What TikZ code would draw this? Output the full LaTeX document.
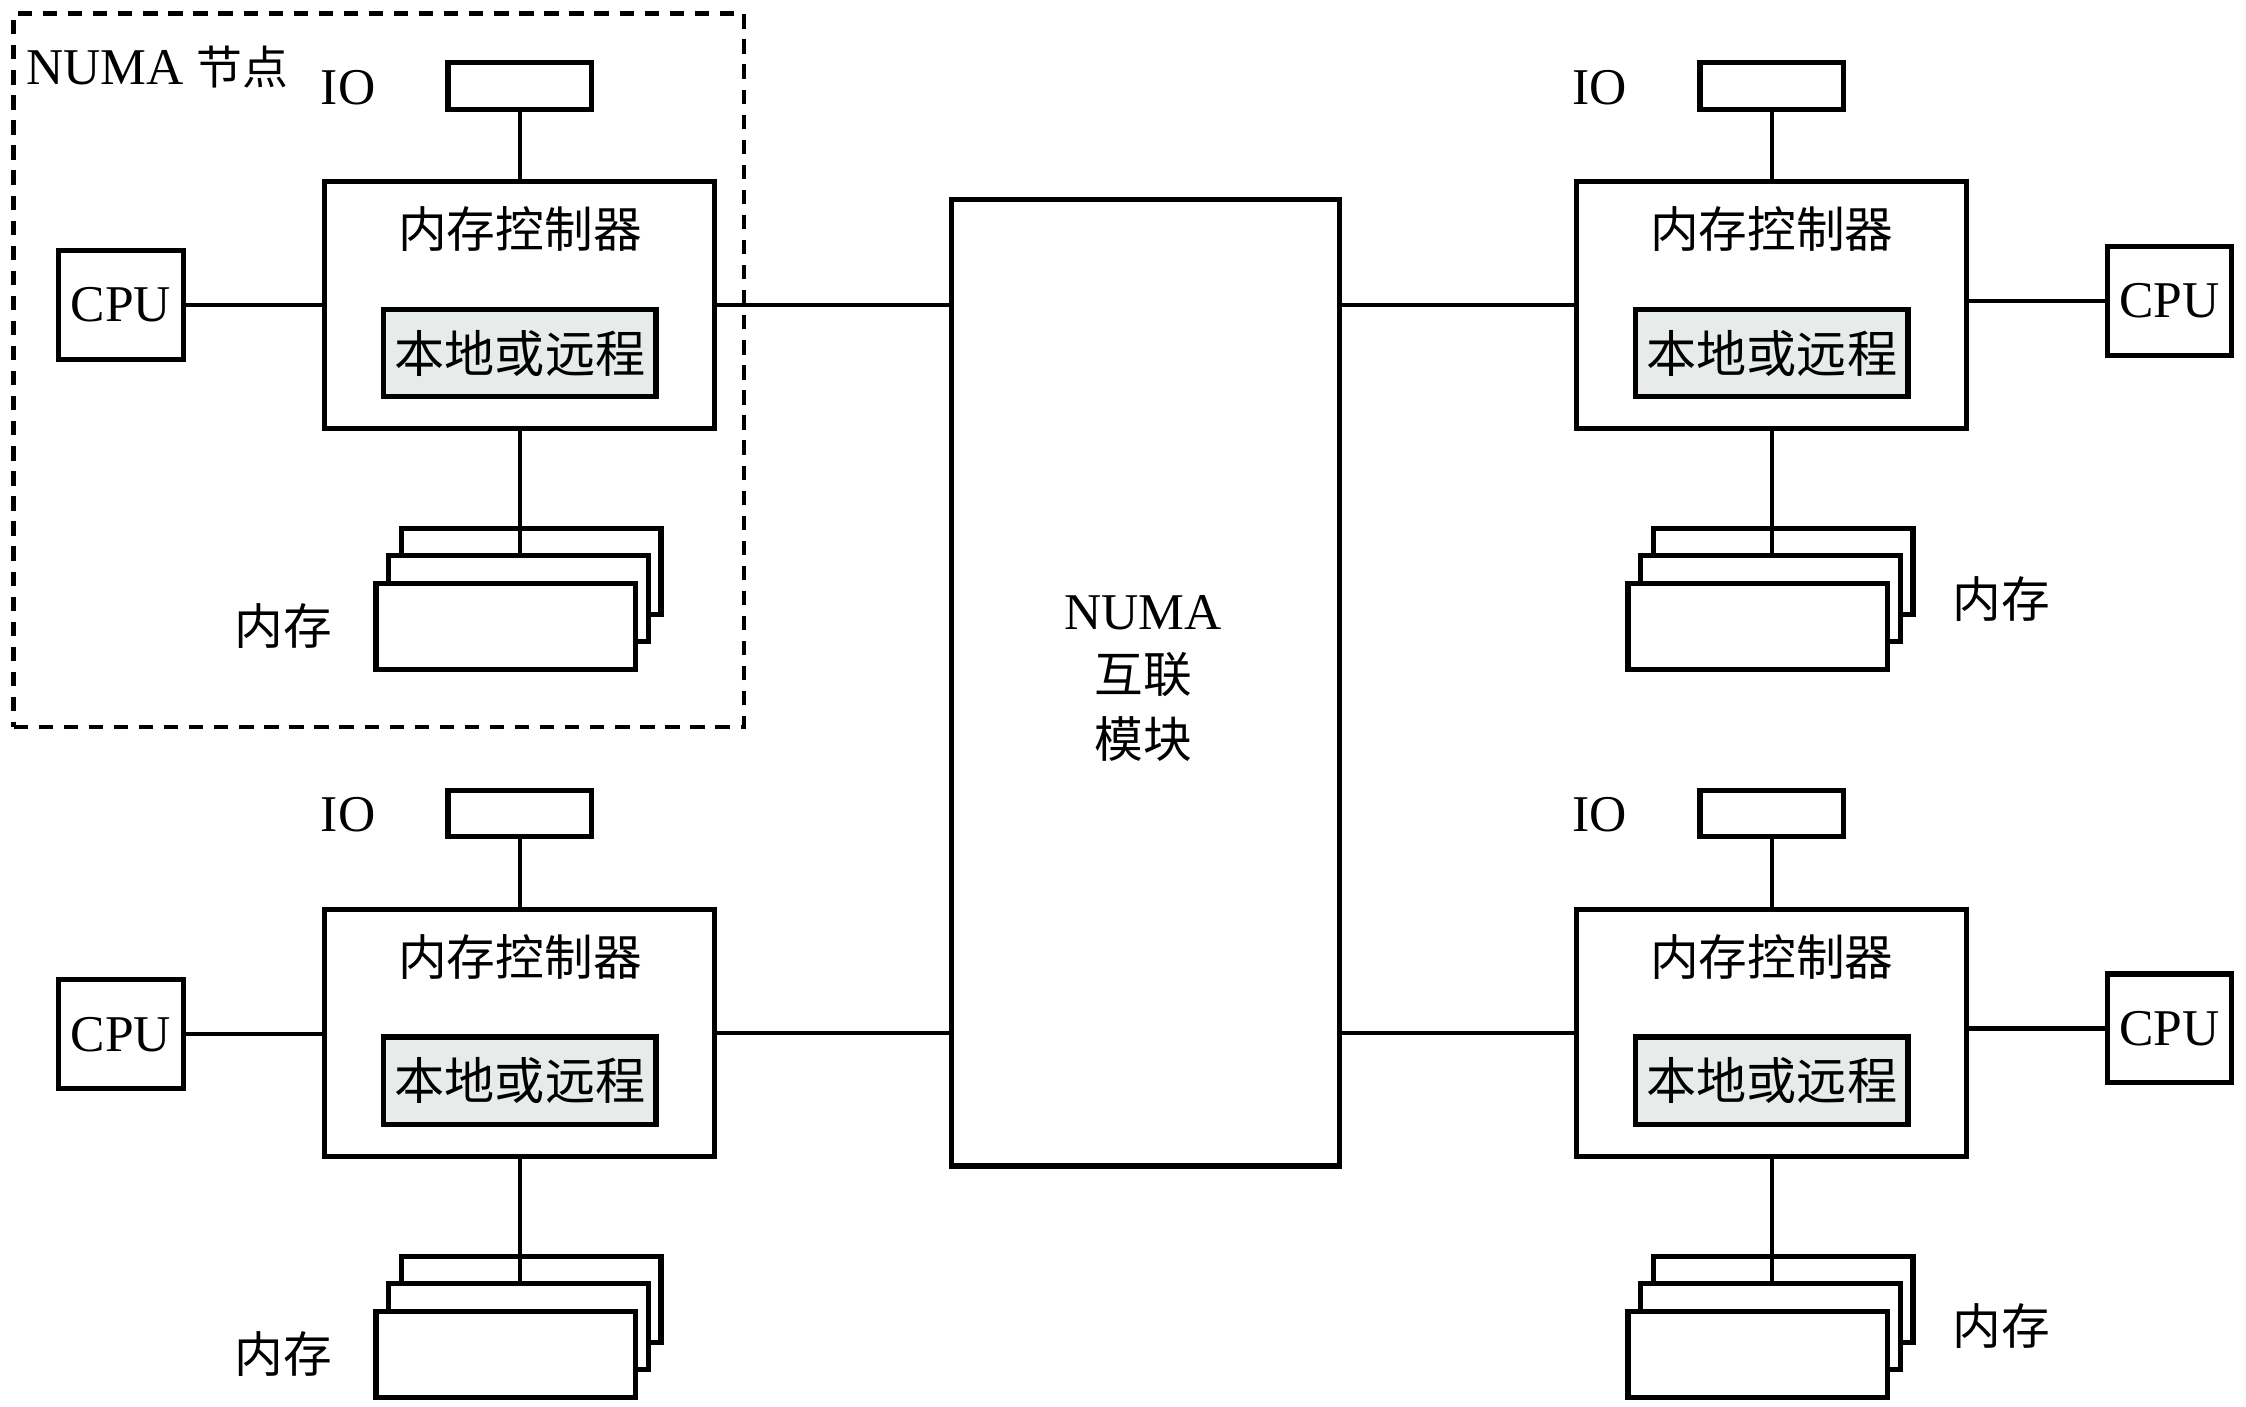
\documentclass[tikz,border=0pt]{standalone}
\usepackage{fontspec}
\setmainfont{Liberation Serif}
\newfontfamily\cjk{Noto Sans CJK SC}
\definecolor{locgray}{RGB}{231,235,233}
\begin{document}
\begin{tikzpicture}[x=1pt,y=-1pt,
  box/.style={draw, line width=3.6pt, fill=white, inner sep=0pt},
  conn/.style={line width=3pt},
  lbl/.style={inner sep=0pt, font=\fontsize{36}{40}\selectfont},
  cjklbl/.style={inner sep=0pt, font=\cjk\fontsize{34}{40}\selectfont},
  memrect/.style={box, minimum width=181pt, minimum height=60pt}]
\useasboundingbox (0,0) rectangle (1568,982);
% NUMA node frame
\node[draw, line width=3pt, dash pattern=on 10pt off 7.5pt, inner sep=0pt,
      minimum width=510pt, minimum height=498pt] (frame) at (264.5,258.5) {};
\node[lbl, anchor=west] (framelbl) at (18,47) {NUMA {\cjk\fontsize{32}{40}\selectfont 节点}};
% repeated node parts
\foreach \p/\dx/\dy in {tl/0/0,tr/874/0,bl/0/508,br/874/508}{
  \begin{scope}[shift={(\dx,\dy)}]
    \node[box, minimum width=100.4pt, minimum height=32.4pt] (\p io) at (363,60) {};
    \node[lbl] (\p iol) at (243,61) {IO};
    \node[box, minimum width=272.4pt, minimum height=172.4pt] (\p mc) at (362.5,213) {};
    \node[cjklbl] (\p mct) at (363,160) {内存控制器};
    \node[box, fill=locgray, minimum width=190pt, minimum height=61pt,
          font=\cjk\fontsize{35}{40}\selectfont] (\p loc) at (363,246.5) {本地或远程};
    \node[memrect] (\p m3) at (371,399) {};
    \node[memrect] (\p m2) at (362,418) {};
    \node[memrect] (\p m1) at (353,437.5) {};
    \draw[conn] (\p io.south) -- (\p io.south |- \p mc.north);
    \draw[conn] (\p mc.south -| \p io.south) -- (\p io.south |- \p m2.north);
  \end{scope}
}
% CPUs
\node[box, lbl, minimum width=87pt, minimum height=76pt] (tlcpu) at (84.5,213) {CPU};
\node[box, lbl, minimum width=87pt, minimum height=76pt] (trcpu) at (1514.5,210) {CPU};
\node[box, lbl, minimum width=87pt, minimum height=76pt] (blcpu) at (84.5,722) {CPU};
\node[box, lbl, minimum width=87pt, minimum height=76pt] (brcpu) at (1514.5,718) {CPU};
\draw[conn] (tlcpu.east) -- (tlcpu.east -| tlmc.west);
\draw[conn] (trcpu.west -| trmc.east) -- (trcpu.west);
\draw[conn] (blcpu.east) -- (blcpu.east -| blmc.west);
\draw[conn] (brcpu.west -| brmc.east) -- (brcpu.west);
% memory labels
\node[cjklbl] (tlml) at (198,437) {内存};
\node[cjklbl] (blml) at (198,945) {内存};
\node[cjklbl] (trml) at (1397,418) {内存};
\node[cjklbl] (brml) at (1397,926) {内存};
% NUMA interconnect
\node[box, minimum width=271pt, minimum height=675pt] (numa) at (799.5,476.5) {};
\node[lbl] (numa1) at (798,428) {NUMA};
\node[cjklbl] (numa2) at (798,471) {互联};
\node[cjklbl] (numa3) at (798,516) {模块};
\draw[conn] (tlmc.east) -- (tlmc.east -| numa.west);
\draw[conn] (blmc.east) -- (blmc.east -| numa.west);
\draw[conn] (trmc.west -| numa.east) -- (trmc.west);
\draw[conn] (brmc.west -| numa.east) -- (brmc.west);
\end{tikzpicture}
\end{document}
